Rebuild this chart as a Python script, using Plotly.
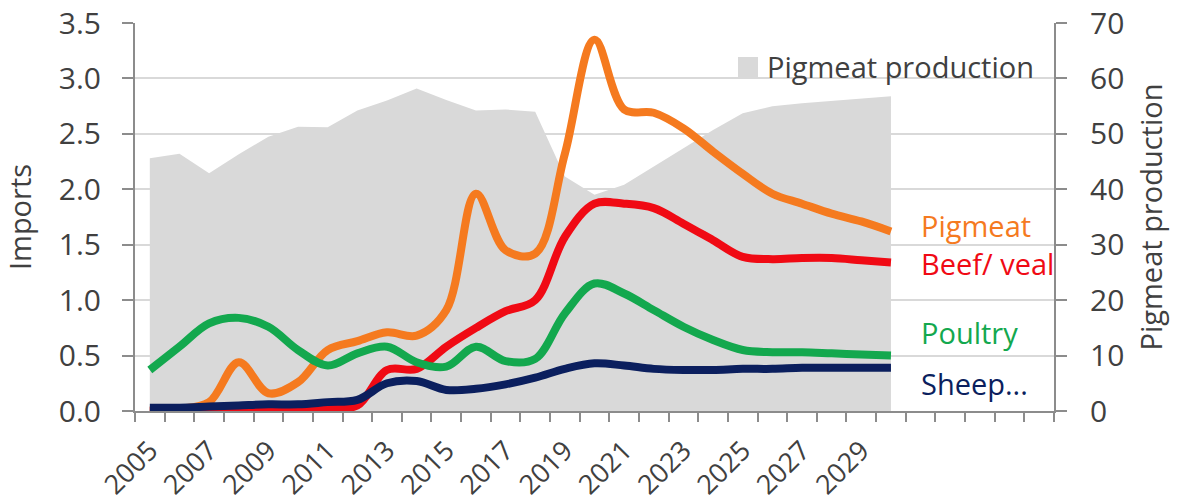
import plotly.graph_objects as go

years = list(range(2005, 2031))

pig_production = [45.6, 46.4, 42.9, 46.3, 49.5, 51.3, 51.2, 54.2, 56.0, 58.2, 56.1, 54.2, 54.4,
                  54.0, 42.3, 39.0, 40.8, 44.1, 47.4, 50.7, 53.7, 55.0, 55.5, 55.9, 56.3, 56.8]

pigmeat = [0.01, 0.02, 0.08, 0.44, 0.16, 0.26, 0.55, 0.63, 0.71, 0.68, 0.91, 1.96, 1.45,
           1.42, 2.32, 3.35, 2.72, 2.69, 2.55, 2.34, 2.14, 1.96, 1.87, 1.78, 1.71, 1.62]
beef = [0.0, 0.0, 0.0, 0.0, 0.01, 0.01, 0.02, 0.05, 0.37, 0.38, 0.58, 0.75, 0.9,
        1.0, 1.57, 1.87, 1.87, 1.83, 1.69, 1.54, 1.39, 1.37, 1.38, 1.38, 1.36, 1.34]
poultry = [0.37, 0.58, 0.79, 0.84, 0.76, 0.55, 0.41, 0.52, 0.58, 0.44, 0.40, 0.58, 0.45,
           0.47, 0.88, 1.15, 1.06, 0.91, 0.76, 0.64, 0.55, 0.53, 0.53, 0.52, 0.51, 0.50]
sheep = [0.03, 0.03, 0.04, 0.05, 0.06, 0.06, 0.08, 0.10, 0.25, 0.27, 0.19, 0.20, 0.24,
         0.30, 0.38, 0.43, 0.41, 0.38, 0.37, 0.37, 0.38, 0.38, 0.39, 0.39, 0.39, 0.39]

series_names = ["Pigmeat", "Beef/ veal", "Poultry", "Sheep..."]
series_colors = ["#F57A1F", "#F00A14", "#13A84E", "#0B1F5E"]
label_y = [1.67, 1.335, 0.71, 0.245]

x_tick_labels = [str(y) for y in range(2005, 2031, 2)]
left_ticks = [0, 0.5, 1.0, 1.5, 2.0, 2.5, 3.0, 3.5]
right_ticks = [0, 10, 20, 30, 40, 50, 60, 70]

FONT = "Open Sans"
TXT = "#404040"
AX = "#8C8C8C"
GRID = "#D9D9D9"

fig = go.Figure()

fig.add_trace(go.Scatter(
    x=years, y=pig_production, mode="lines", fill="tozeroy",
    fillcolor="#D9D9D9", line=dict(width=0, color="#D9D9D9"),
    name="Pigmeat production", yaxis="y", showlegend=False))

for vals, name, col in zip([pigmeat, beef, poultry, sheep], series_names, series_colors):
    fig.add_trace(go.Scatter(
        x=years, y=vals, mode="lines", name=name, yaxis="y2",
        line=dict(color=col, width=8, shape="spline", smoothing=1.0),
        showlegend=False))

for name, col, yv in zip(series_names, series_colors, label_y):
    fig.add_annotation(x=2030.95, y=yv, xref="x", yref="y2", text=name,
                       showarrow=False, xanchor="left", yanchor="middle",
                       font=dict(family=FONT, size=29, color=col))

# legend for the area
fig.add_shape(type="rect", xref="paper", yref="paper",
              x0=(738 - 135) / 919, x1=(758 - 135) / 919,
              y0=(411 - 77) / 388, y1=(411 - 57) / 388,
              fillcolor="#D9D9D9", line=dict(width=0))
fig.add_annotation(x=(765 - 135) / 919, y=(411 - 66) / 388, xref="paper", yref="paper",
                   text="Pigmeat production", showarrow=False, xanchor="left",
                   yanchor="middle", font=dict(family=FONT, size=29, color=TXT))

fig.update_layout(
    width=1178, height=502,
    margin=dict(l=135, r=124, t=23, b=91),
    plot_bgcolor="white", paper_bgcolor="white",
    font=dict(family=FONT, color=TXT),
    showlegend=False,
    xaxis=dict(
        range=[2004.5, 2035.5], tickmode="array", tickvals=list(range(2005, 2031, 2)),
        ticktext=x_tick_labels, tickangle=-45, ticks="", automargin=False,
        tickfont=dict(family=FONT, size=27, color=TXT), ticklabelstandoff=11,
        ticklabeloverflow="allow",
        showgrid=False, showline=True, linecolor=AX, linewidth=2, zeroline=False,
        minor=dict(ticks="outside", tick0=2004.5, dtick=1, ticklen=9,
                   tickcolor=AX, tickwidth=2, showgrid=False),
    ),
    yaxis=dict(
        range=[0, 70], tickmode="array", tickvals=right_ticks, side="right",
        ticks="outside", ticklen=11, tickcolor=AX, tickwidth=2, automargin=False,
        showline=True, linecolor=AX, linewidth=2, showgrid=False, zeroline=False,
        tickfont=dict(family=FONT, size=30, color=TXT), ticklabelstandoff=17,
        ticklabeloverflow="allow",
        title=dict(text="Pigmeat production", font=dict(family=FONT, size=29, color=TXT),
                   standoff=18),
    ),
    yaxis2=dict(
        range=[0, 3.5], tickmode="array", tickvals=left_ticks,
        ticktext=[f"{v:.1f}" for v in left_ticks], side="left", overlaying="y",
        ticks="outside", ticklen=11, tickcolor=AX, tickwidth=2, automargin=False,
        showline=True, linecolor=AX, linewidth=2,
        showgrid=True, gridcolor=GRID, gridwidth=2, zeroline=False,
        tickfont=dict(family=FONT, size=30, color=TXT), ticklabelstandoff=15,
        ticklabeloverflow="allow",
        title=dict(text="Imports", font=dict(family=FONT, size=29, color=TXT), standoff=25),
    ),
)

fig.write_html("out.html", config={"displayModeBar": False},
               post_script="document.body.style.margin='0';")
